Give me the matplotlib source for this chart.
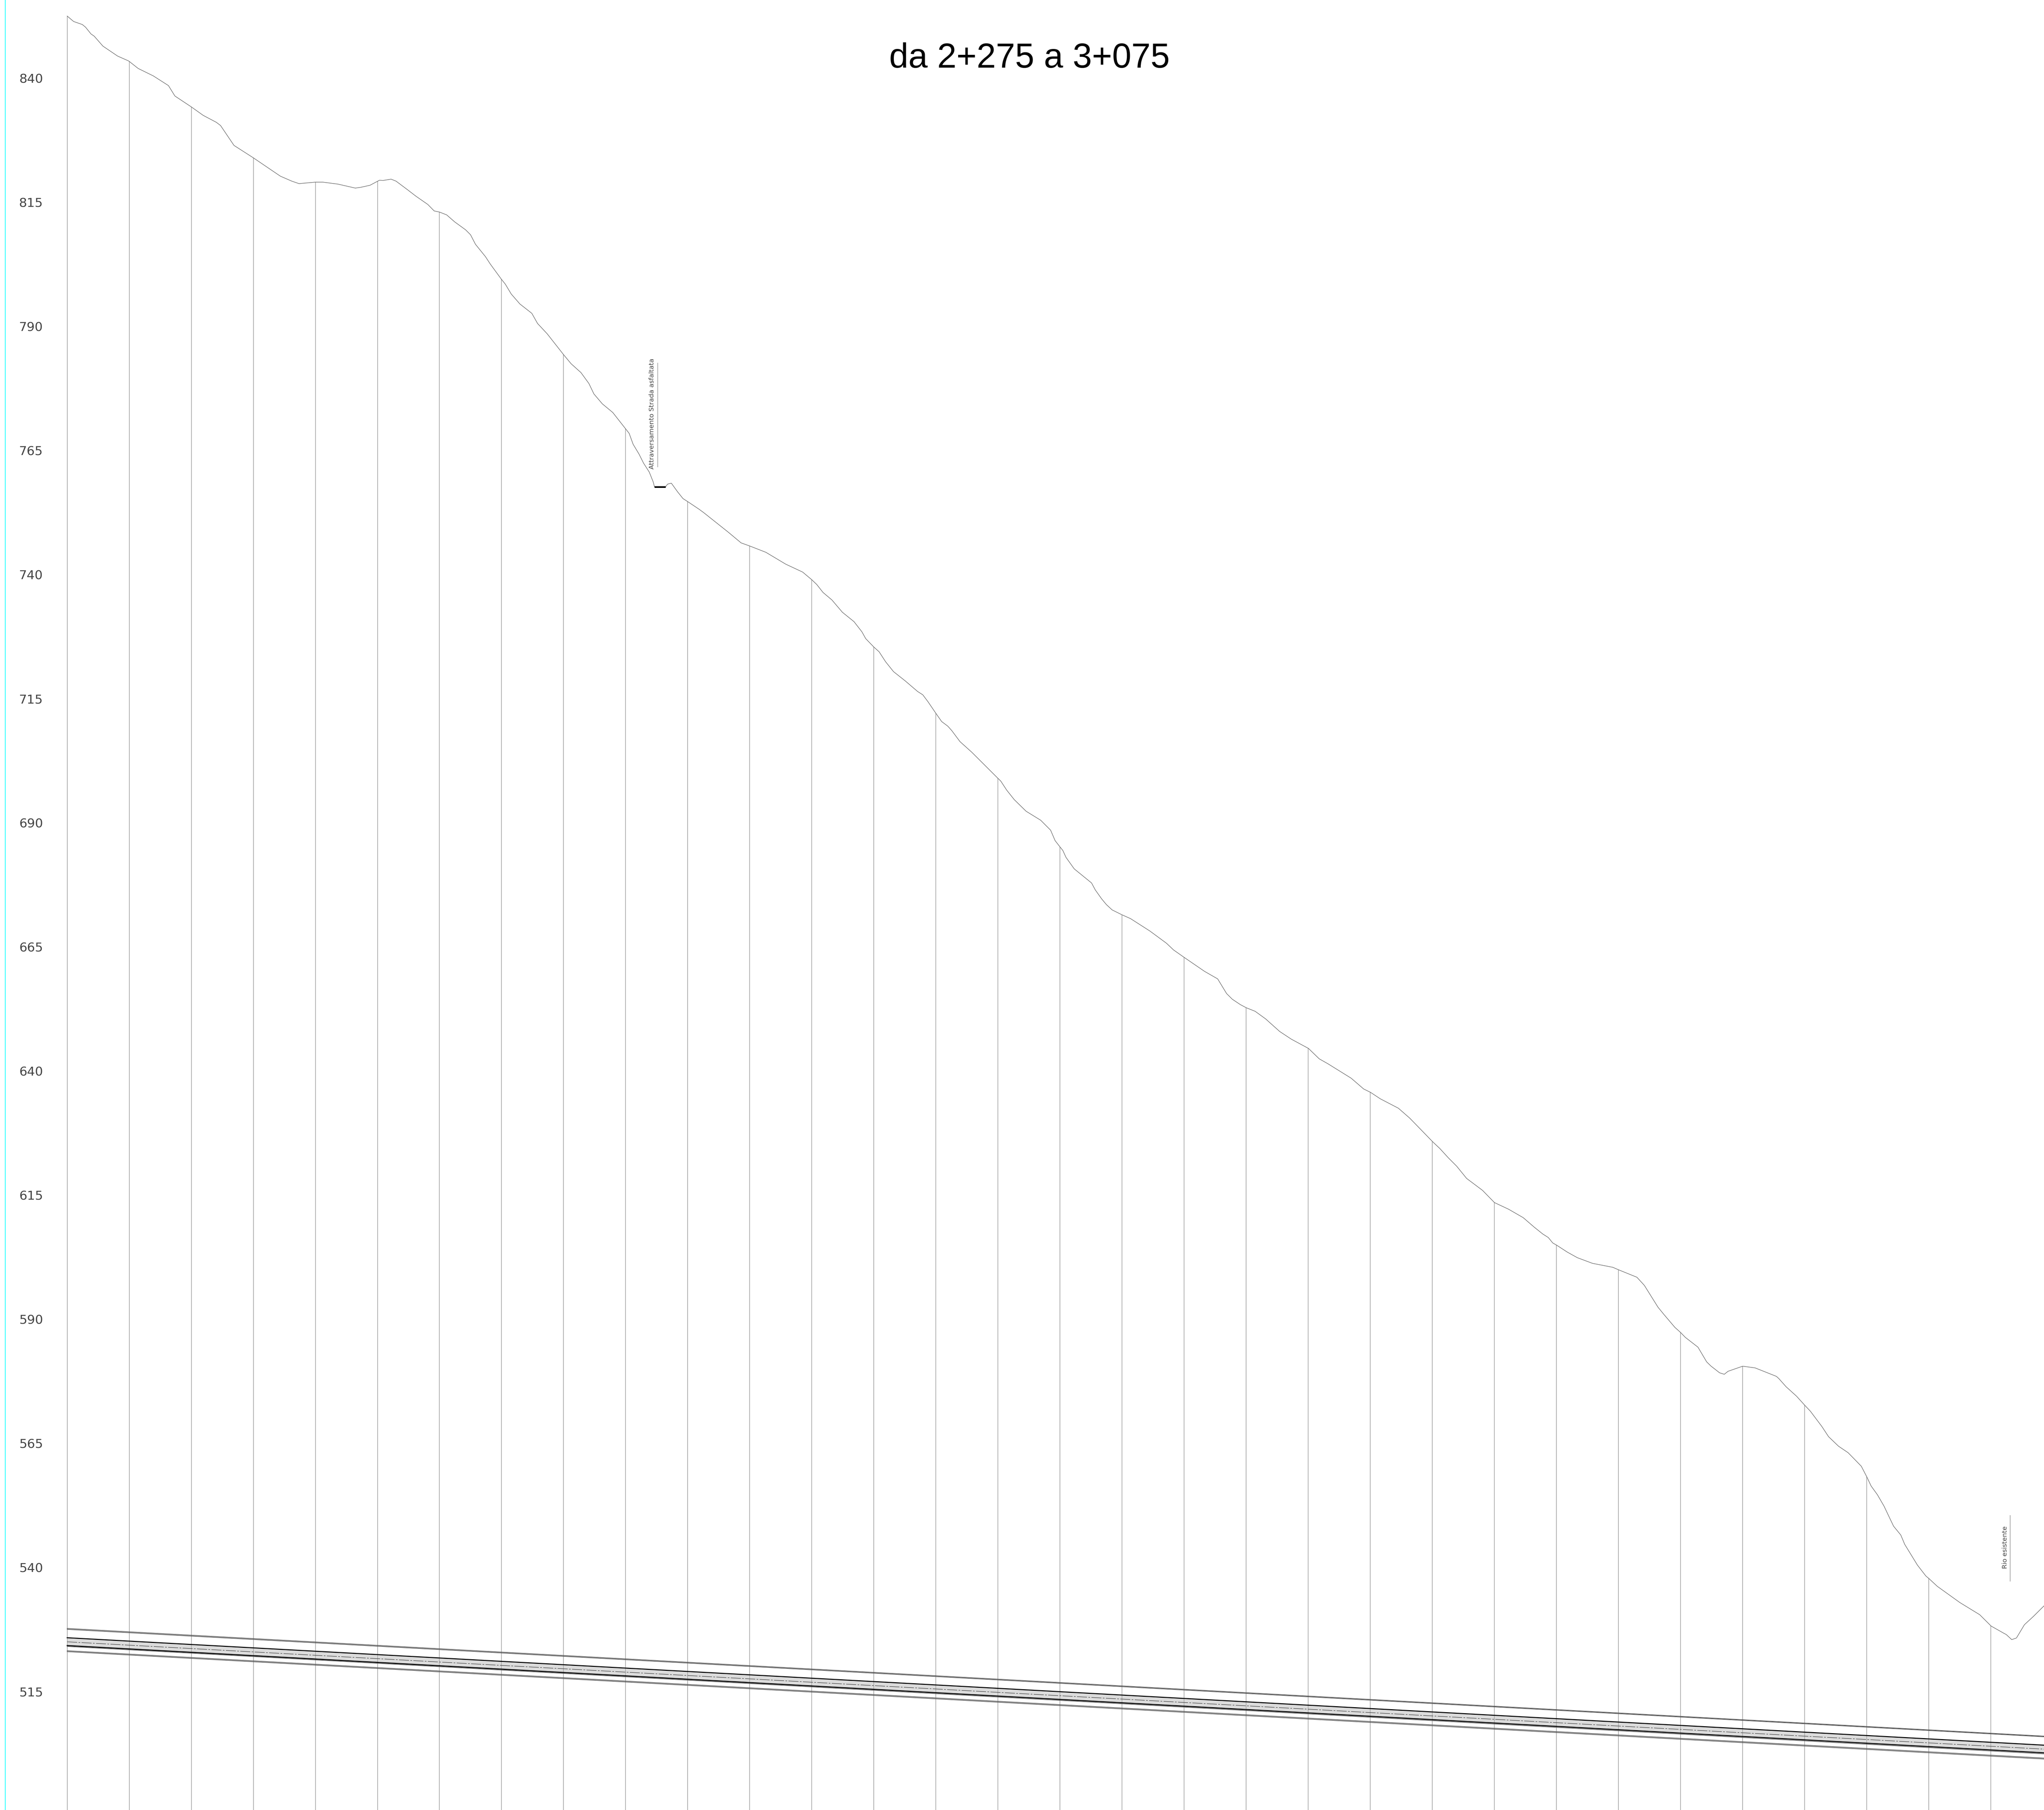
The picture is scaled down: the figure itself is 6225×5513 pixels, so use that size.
import numpy as np
import matplotlib
matplotlib.use("Agg")
import matplotlib.pyplot as plt

title = "da 2+275 a 3+075"
elevation_ticks = [840, 815, 790, 765, 740, 715, 690, 665, 640, 615, 590, 565, 540, 515]
sections = list(range(2275, 3051, 25))

profile_chainage = [
    2275.0, 2277.6, 2281.1, 2282.4, 2284.6, 2285.9, 2289.4, 2295.3, 2299.8, 2303.6, 2309.7, 2315.8, 2318.4,
    2325.0, 2329.8, 2335.1, 2336.8, 2342.2, 2350.0, 2360.9, 2365.5, 2368.4, 2375.0, 2378.0, 2384.1, 2391.1,
    2393.4, 2397.0, 2400.8, 2402.3, 2405.5, 2407.5, 2412.3, 2415.5, 2420.3, 2422.85, 2425.0, 2427.9, 2431.1,
    2435.5, 2437.5, 2439.5, 2443.5, 2445.5, 2449.9, 2451.5, 2453.9, 2457.4, 2462.2, 2464.5, 2468.4, 2475.0,
    2478.0, 2482.0, 2485.2, 2487.2, 2490.6, 2494.8, 2500.0, 2501.4, 2503.0, 2505.4, 2507.2, 2509.5, 2511.1,
    2511.6, 2516.07, 2516.9, 2518.4, 2520.85, 2523.1, 2525.0, 2529.6, 2531.5, 2541.3, 2546.5, 2550.0, 2556.5,
    2564.5, 2571.3, 2575.0, 2577.0, 2579.5, 2583.1, 2587.3, 2592.0, 2595.2, 2596.7, 2600.0, 2602.1, 2604.7,
    2607.9, 2612.7, 2617.6, 2619.7, 2621.8, 2625.0, 2627.3, 2629.8, 2631.4, 2634.7, 2639.5, 2650.0, 2651.1,
    2653.5, 2656.5, 2661.3, 2667.2, 2671.2, 2673.0, 2675.0, 2676.1, 2677.4, 2680.7, 2687.7, 2689.2, 2691.8,
    2693.7, 2696.0, 2700.0, 2703.4, 2711.2, 2717.9, 2720.7, 2725.0, 2733.2, 2738.5, 2742.1, 2744.4, 2747.6,
    2750.0, 2753.6, 2757.8, 2763.5, 2768.2, 2775.1, 2779.4, 2782.9, 2792.3, 2797.3, 2800.1, 2804.0, 2811.3,
    2815.9, 2825.1, 2828.0, 2831.4, 2834.8, 2838.8, 2845.2, 2850.0, 2855.7, 2861.6, 2866.0, 2869.5, 2871.7,
    2873.5, 2875.1, 2879.3, 2883.4, 2889.5, 2897.7, 2900.0, 2907.4, 2910.4, 2915.9, 2918.2, 2922.7, 2925.0,
    2926.9, 2932.0, 2935.5, 2937.2, 2940.7, 2942.6, 2944.1, 2950.0, 2955.0, 2963.6, 2964.6, 2967.5, 2971.7,
    2975.0, 2977.3, 2981.9, 2984.6, 2988.6, 2992.5, 2997.8, 3000.1, 3001.75, 3004.3, 3006.95, 3010.8, 3013.7,
    3015.3, 3020.4, 3023.8, 3025.05, 3028.4, 3037.5, 3045.5, 3050.1, 3055.3, 3056.2, 3058.4, 3060.3, 3063.5,
    3067.1, 3071.4,
]
profile_elevation = [
    852.56, 851.46, 850.85, 850.32, 848.95, 848.5, 846.5, 844.5, 843.5, 842.0, 840.5, 838.55, 836.45,
    834.26, 832.55, 831.15, 830.5, 826.5, 824.0, 820.3, 819.3, 818.8, 819.1, 819.1, 818.7, 817.9,
    818.07, 818.47, 819.48, 819.44, 819.7, 819.3, 817.5, 816.27, 814.6, 813.3, 813.07, 812.5, 811.1,
    809.5, 808.5, 806.57, 804.1, 802.57, 799.56, 798.56, 796.56, 794.55, 792.67, 790.63, 788.54, 784.34,
    782.53, 780.73, 778.53, 776.44, 774.44, 772.7, 769.39, 768.5, 766.3, 764.3, 762.5, 760.7, 758.7,
    757.73, 757.73, 758.27, 758.46, 756.76, 755.35, 754.74, 753.2, 752.5, 748.6, 746.43, 745.8, 744.53,
    742.14, 740.55, 739.0, 738.04, 736.45, 734.93, 732.46, 730.56, 728.5, 727.15, 725.44, 724.5, 722.5,
    720.5, 718.6, 716.5, 715.83, 714.43, 712.08, 710.44, 709.5, 708.6, 706.39, 704.23, 698.99, 698.46,
    696.63, 694.74, 692.38, 690.56, 688.55, 686.46, 685.17, 684.49, 683.08, 680.77, 677.92, 676.52, 674.69,
    673.55, 672.49, 671.5, 670.74, 668.24, 665.77, 664.44, 662.93, 660.12, 658.6, 655.64, 654.5, 653.43,
    652.79, 652.07, 650.55, 648.0, 646.45, 644.59, 642.5, 641.51, 638.59, 636.43, 635.74, 634.45, 632.55,
    630.54, 625.8, 624.43, 622.57, 620.86, 618.4, 616.0, 613.54, 612.2, 610.5, 608.6, 607.2, 606.5,
    605.4, 604.95, 603.58, 602.44, 601.3, 600.5, 600.0, 598.5, 596.86, 592.46, 591.05, 588.4, 587.37,
    586.39, 584.41, 581.45, 580.62, 579.25, 578.95, 579.55, 580.58, 580.24, 578.53, 578.07, 576.44, 574.54,
    572.72, 571.5, 568.44, 566.39, 564.47, 563.15, 560.43, 558.2, 556.45, 554.68, 552.39, 548.35, 546.58,
    544.68, 540.52, 538.32, 537.8, 536.24, 532.97, 530.52, 528.23, 526.76, 526.52, 525.5, 525.83, 528.5,
    530.16, 532.3,
]

road_chainage = [2511.6, 2516.07]
road_elevation = [757.73, 757.73]

pipe_chainage = [2275.0, 3071.4]
pipe_top_outer = [527.75, 506.06]
pipe_top_inner = [527.57, 505.93]
pipe_upper = [525.88, 504.24]
pipe_axis = [525.06, 503.44]
pipe_lower = [524.31, 502.70]
pipe_lower_edge = [524.13, 502.49]
pipe_bottom_inner = [523.26, 501.64]
pipe_bottom_outer = [523.08, 501.45]

note_road = "Attraversamento Strada asfaltata"
note_road_pos = (2510.6, 772.45)
note_road_leader = (2512.9, 761.7, 782.7)
note_rio = "Rio esistente"
note_rio_pos = (3055.7, 544.1)
note_rio_leader = (3057.8, 537.2, 550.6)
datum_chainage = 2250.0

fig = plt.figure(figsize=(62.25, 55.13), dpi=100, facecolor="white")
ax = fig.add_axes([0, 0, 1, 1])
ax.set_xlim(2247.94, 3071.4)
ax.set_ylim(491.18, 855.79)
for s in ax.spines.values():
    s.set_visible(False)
ax.set_xticks([])
ax.set_yticks(elevation_ticks)
ax.set_yticklabels([str(v) for v in elevation_ticks], family="DejaVu Sans", fontsize=27.5, color="#444444")
ax.tick_params(axis="y", length=0, pad=-94.3)

ax.axvline(datum_chainage, color="#00ffff", lw=1.5, zorder=1)

ax.fill_between(pipe_chainage, pipe_lower, pipe_upper, color="#dcdcdc", lw=0, zorder=1)

tops = np.interp(sections, profile_chainage, profile_elevation)
ax.vlines(sections, 491.18, tops, color="#aaaaaa", lw=1.5, zorder=2)

ax.plot(profile_chainage, profile_elevation, color="#555555", lw=1.0, zorder=3)
ax.plot(road_chainage, road_elevation, color="black", lw=3.6, solid_capstyle="butt", zorder=4)

for vals in (pipe_top_outer, pipe_top_inner, pipe_bottom_inner, pipe_bottom_outer, pipe_lower_edge):
    ax.plot(pipe_chainage, vals, color="#555555", lw=1.4, zorder=3)
for vals in (pipe_upper, pipe_lower):
    ax.plot(pipe_chainage, vals, color="black", lw=2.2, zorder=3)
ax.plot(pipe_chainage, pipe_axis, color="#444444", lw=1.1, linestyle=(0, (20, 2.7, 3.4, 2.7)), zorder=3)

ax.vlines([note_road_leader[0]], note_road_leader[1], note_road_leader[2], color="#b0b0b0", lw=1.6)
ax.vlines([note_rio_leader[0]], note_rio_leader[1], note_rio_leader[2], color="#a8a8a8", lw=1.6)
ax.text(*note_road_pos, note_road, rotation=90, ha="center", va="center", family="DejaVu Sans",
        fontsize=14.4, color="#444444")
ax.text(*note_rio_pos, note_rio, rotation=90, ha="center", va="center", family="DejaVu Sans",
        fontsize=14.4, color="#444444")

ax.set_title(title, x=3135 / 6225, y=1 - 187 / 5513, va="center", ha="center", family="Liberation Sans",
             fontsize=75.8, color="black")

fig.savefig("out.png", dpi=100, facecolor="white")
